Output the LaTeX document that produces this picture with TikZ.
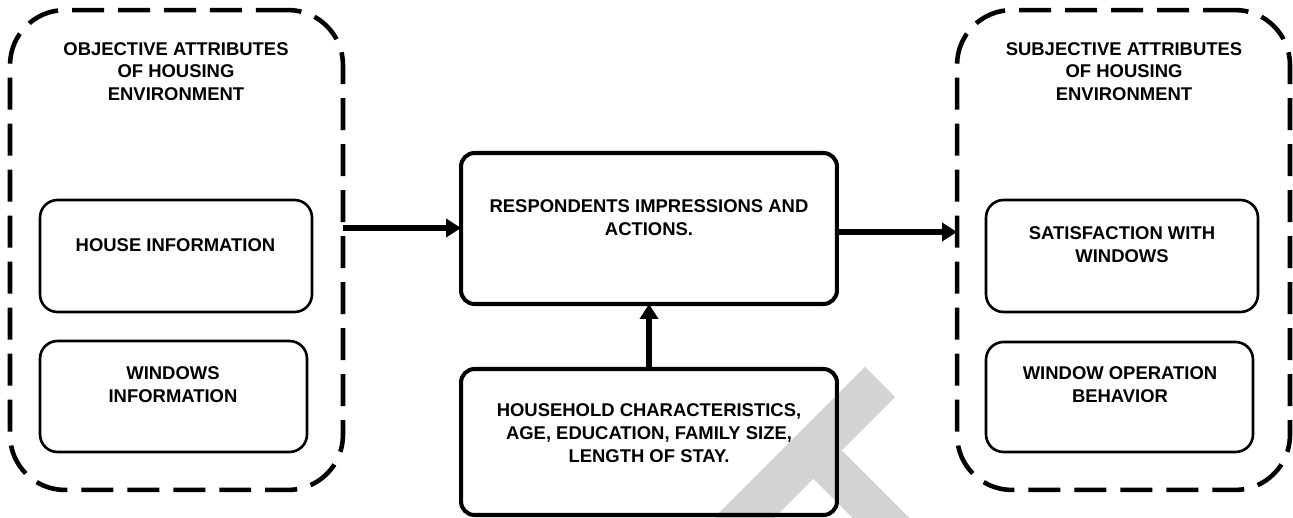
\documentclass[tikz,border=0pt]{standalone}
\usepackage{fontspec}
\setmainfont{Liberation Sans}
\usetikzlibrary{positioning,arrows.meta}
\definecolor{wmgray}{RGB}{211,211,211}
\tikzstyle{group}   = [draw, line width=2.6pt, dash pattern=on 0.64cm off 0.28cm, rounded corners=1.1cm, inner sep=0pt, outer sep=0pt]
\tikzstyle{infobox} = [draw, line width=1.5pt, rounded corners=0.35cm, inner sep=0pt, outer sep=0pt]
\tikzstyle{mainbox} = [draw, line width=2.3pt, rounded corners=0.27cm, inner sep=0pt, outer sep=0pt]
\tikzstyle{boxtext} = [align=center, inner sep=0pt, font=\fontsize{10.5}{13}\selectfont\bfseries]
\tikzstyle{arrow}   = [line width=3.4pt, -{Triangle[length=0.3cm, width=0.36cm]}]

\begin{document}
\begin{tikzpicture}[x=0.02cm, y=-0.02cm,
		wmband/.style={wmgray, line width=0.85cm}]

	\useasboundingbox (0,0) rectangle (1293,517);

	% watermark behind the boxes
	\begin{scope}
		\clip (0,0) rectangle (1293,517);
		\draw[wmband] (880,382) -- (730,532);
		\draw[wmband, line width=0.8cm] (812,449) -- (905,542);
	\end{scope}

	% the two groups
	\node[group, minimum width=6.66cm, minimum height=9.6cm] (objective) at (176.5,250) {};
	\node[group, minimum width=6.66cm, minimum height=9.6cm] (subjective) at (1123.5,250) {};

	\node[boxtext] (objtitle) at (176,71.5) {OBJECTIVE ATTRIBUTES\\OF HOUSING\\ENVIRONMENT};
	\node[boxtext] (subjtitle) at (1124,71.5) {SUBJECTIVE ATTRIBUTES\\OF HOUSING\\ENVIRONMENT};

	% inner boxes
	\node[infobox, minimum width=5.44cm, minimum height=2.24cm] (house) at (176,256) {};
	\node[infobox, minimum width=5.34cm, minimum height=2.22cm] (wininfo) at (173.5,396.5) {};
	\node[infobox, minimum width=5.44cm, minimum height=2.24cm] (satisf) at (1122,256) {};
	\node[infobox, minimum width=5.34cm, minimum height=2.2cm] (winop) at (1119.5,397) {};

	\node[boxtext] (housetxt) at (175.5,245) {HOUSE INFORMATION};
	\node[boxtext] (wininfotxt) at (173,385) {WINDOWS\\INFORMATION};
	\node[boxtext] (satisftxt) at (1122,245) {SATISFACTION WITH\\WINDOWS};
	\node[boxtext] (winoptxt) at (1120,385) {WINDOW OPERATION\\BEHAVIOR};

	% middle column
	\node[mainbox, minimum width=7.52cm, minimum height=3.02cm] (respond) at (649,228.5) {};
	\node[mainbox, minimum width=7.52cm, minimum height=2.92cm] (household) at (649,442) {};

	\node[boxtext] (respondtxt) at (649,217.5) {RESPONDENTS IMPRESSIONS AND\\ACTIONS.};
	\node[boxtext] (householdtxt) at (649,433) {HOUSEHOLD CHARACTERISTICS,\\AGE, EDUCATION, FAMILY SIZE,\\LENGTH OF STAY.};

	\draw[arrow] (objective.east |- 0,228) -- (respond.west |- 0,228);
	\draw[arrow] (respond.east |- 0,232) -- (subjective.west |- 0,232);
	\draw[arrow] (household.north) -- (respond.south);
\end{tikzpicture}
\end{document}
